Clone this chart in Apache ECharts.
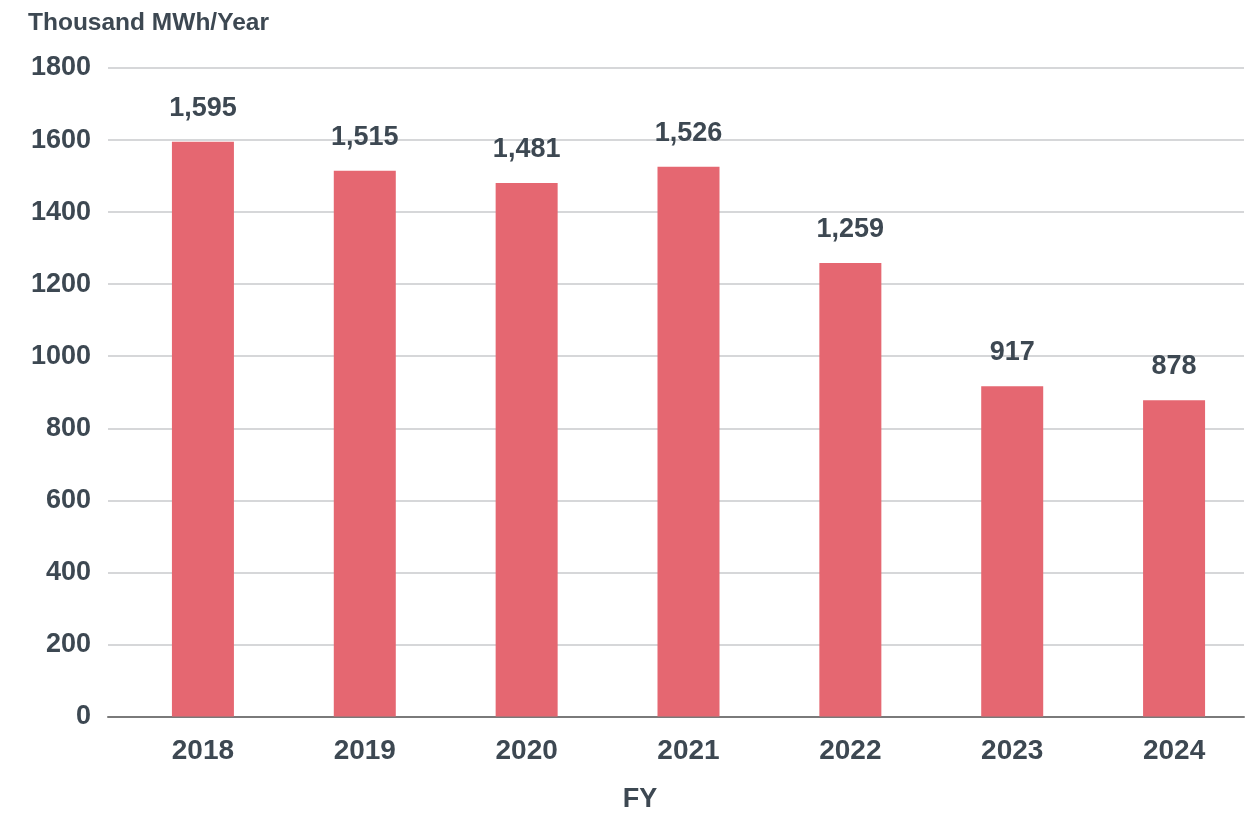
<!DOCTYPE html>
<html><head><meta charset="utf-8">
<script src="https://cdn.jsdelivr.net/npm/echarts@6/dist/echarts.min.js"></script>
<style>html,body{margin:0;padding:0;background:#fff}#c{width:1255px;height:813px}</style>
</head><body><div id="c"></div>
<script>
const categories = ['2018','2019','2020','2021','2022','2023','2024'];
const values = [1595,1515,1481,1526,1259,917,878];
const yTicks = [0,200,400,600,800,1000,1200,1400,1600,1800];
const unitLabel = 'Thousand MWh/Year';
const xName = 'FY';

const txt = '#3d4852';
const font = '"Liberation Sans", Arial, sans-serif';
const chart = echarts.init(document.getElementById('c'));
chart.setOption({
  animation:false,
  textStyle:{fontFamily:font},
  title:[
    {text:unitLabel,left:23,top:6,textStyle:{fontSize:24.5,fontWeight:'bold',color:txt,fontFamily:font}},
    {text:xName,left:635,top:781,textAlign:'center',textStyle:{fontSize:27,fontWeight:'bold',color:txt,fontFamily:font}}
  ],
  grid:[
    {left:108,right:11,top:68,bottom:96.5,containLabel:false},
    {left:122,right:-2,top:68,bottom:96.5,containLabel:false}
  ],
  xAxis:[
    {type:'category',gridIndex:0,data:categories,axisLine:{show:true,lineStyle:{color:'#7a7a7a',width:2}},axisTick:{show:false},axisLabel:{show:false}},
    {type:'category',gridIndex:1,data:categories,axisLine:{show:false},axisTick:{show:false},
     axisLabel:{color:txt,fontSize:28,fontWeight:'bold',margin:21,fontFamily:font}}
  ],
  yAxis:[
    {type:'value',gridIndex:0,min:0,max:1800,interval:200,
     axisLabel:{color:txt,fontSize:27,fontWeight:'bold',margin:17,fontFamily:font,
       formatter:v=>yTicks.includes(v)?String(v):''},
     splitLine:{lineStyle:{color:'#c8cacd',width:1.5}},axisLine:{show:false},axisTick:{show:false}},
    {type:'value',gridIndex:1,min:0,max:1800,interval:200,show:false,splitLine:{show:false}}
  ],
  series:[{
    type:'bar',xAxisIndex:1,yAxisIndex:1,data:values,barWidth:62,
    itemStyle:{color:'#e56771'},
    label:{show:true,position:'top',distance:20,color:txt,fontSize:27,fontWeight:'bold',fontFamily:font,
      formatter:p=>p.value.toLocaleString('en-US')}
  }]
});
</script></body></html>
